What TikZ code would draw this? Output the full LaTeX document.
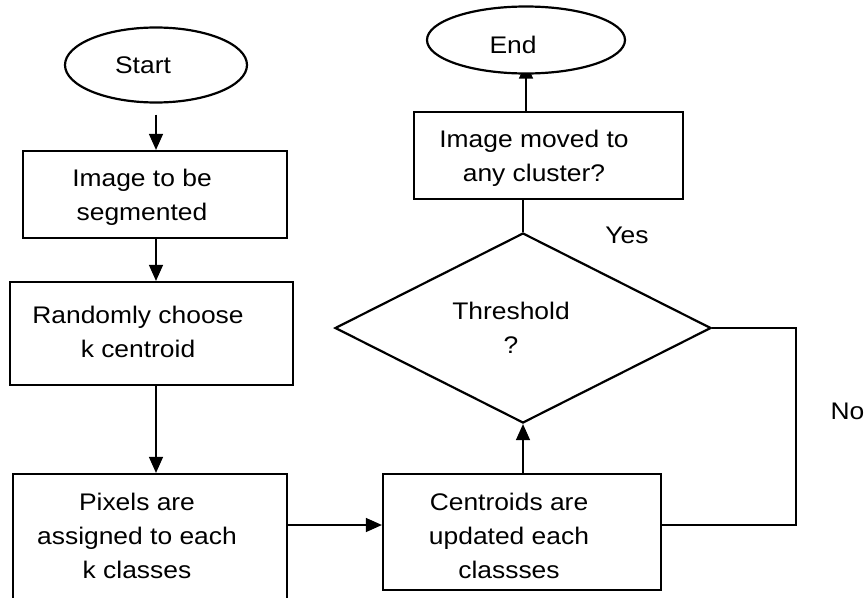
\documentclass[tikz,border=0pt]{standalone}
\usepackage{fontspec}
\setmainfont[FakeStretch=1.1]{Liberation Sans}
\usetikzlibrary{shapes.geometric,arrows.meta,backgrounds}

\tikzset{
  txt/.style={font=\fontsize{24}{34}\selectfont, align=center, inner sep=0pt},
  boxnode/.style={draw, line width=2.2pt, fill=white, inner sep=0pt},
  termnode/.style={boxnode, ellipse},
  decnode/.style={boxnode, diamond},
  conn/.style={line width=1.3pt},
  arr/.style={conn, -{Triangle[length=16pt,width=14pt]}},
  lab/.style={txt}
}

\begin{document}
\begin{tikzpicture}[x=1pt, y=-1pt]
  \clip (0,0) rectangle (867,597);

  % terminals
  \node[termnode, minimum width=182pt, minimum height=75pt,
        label={[txt, xshift=-13pt]center:Start}] (start) at (156,65) {};
  \node[termnode, minimum width=198pt, minimum height=67pt,
        label={[txt, xshift=-13pt, yshift=-5pt]center:End}] (finish) at (526,40) {};

  % process boxes
  \node[boxnode, minimum width=264pt, minimum height=87pt,
        label={[txt, xshift=-13pt, yshift=-2.8pt]center:{Image to be\\segmented}}] (img) at (155,194.5) {};
  \node[boxnode, minimum width=283pt, minimum height=103pt,
        label={[txt, xshift=-13.5pt, yshift=1.7pt]center:{Randomly choose\\k centroid}}] (rand) at (151.5,333.5) {};
  \node[boxnode, minimum width=274pt, minimum height=138pt,
        label={[txt, xshift=-13pt, yshift=6.7pt]center:{Pixels are\\assigned to each\\k classes}}] (pix) at (150,543) {};
  \node[boxnode, minimum width=278pt, minimum height=116pt,
        label={[txt, xshift=-13pt, yshift=-4.2pt]center:{Centroids are\\updated each\\classses}}] (upd) at (522,532) {};
  \node[boxnode, minimum width=269pt, minimum height=87pt,
        label={[txt, xshift=-14.5pt, yshift=-3.2pt]center:{Image moved to\\any cluster?}}] (moved) at (548.5,155.5) {};

  % decision
  \node[decnode, minimum width=376pt, minimum height=190pt,
        label={[txt, xshift=-12pt, yshift=0.7pt]center:{Threshold\\?}}] (thr) at (523,328) {};

  % branch labels
  \node[lab] (yes) at (627,235) {Yes};
  \node[lab] (no) at (847.5,411.5) {No};

  \coordinate (nocorner) at (796,525);

  % connectors (behind the shapes, so the End ellipse hides most of its arrowhead)
  \begin{scope}[on background layer]
    \draw[arr, shorten <=11pt] (start.south) -- (start.south |- img.north);
    \draw[arr] (img.south -| start.south) -- (rand.north -| start.south);
    \draw[arr] (rand.south -| start.south) -- (pix.north -| start.south);
    \draw[arr] (pix.east |- nocorner) -- (upd.west |- nocorner);
    \draw[arr] (upd.north -| thr.south) -- (thr.south);
    \draw[conn] (thr.north) -- (moved.south -| thr.north);
    \draw[arr, shorten >=-12pt] (moved.north -| finish.south) -- (finish.south);
    \draw[conn] (thr.east) -| (nocorner) -- (upd.east |- nocorner);
  \end{scope}
\end{tikzpicture}
\end{document}
